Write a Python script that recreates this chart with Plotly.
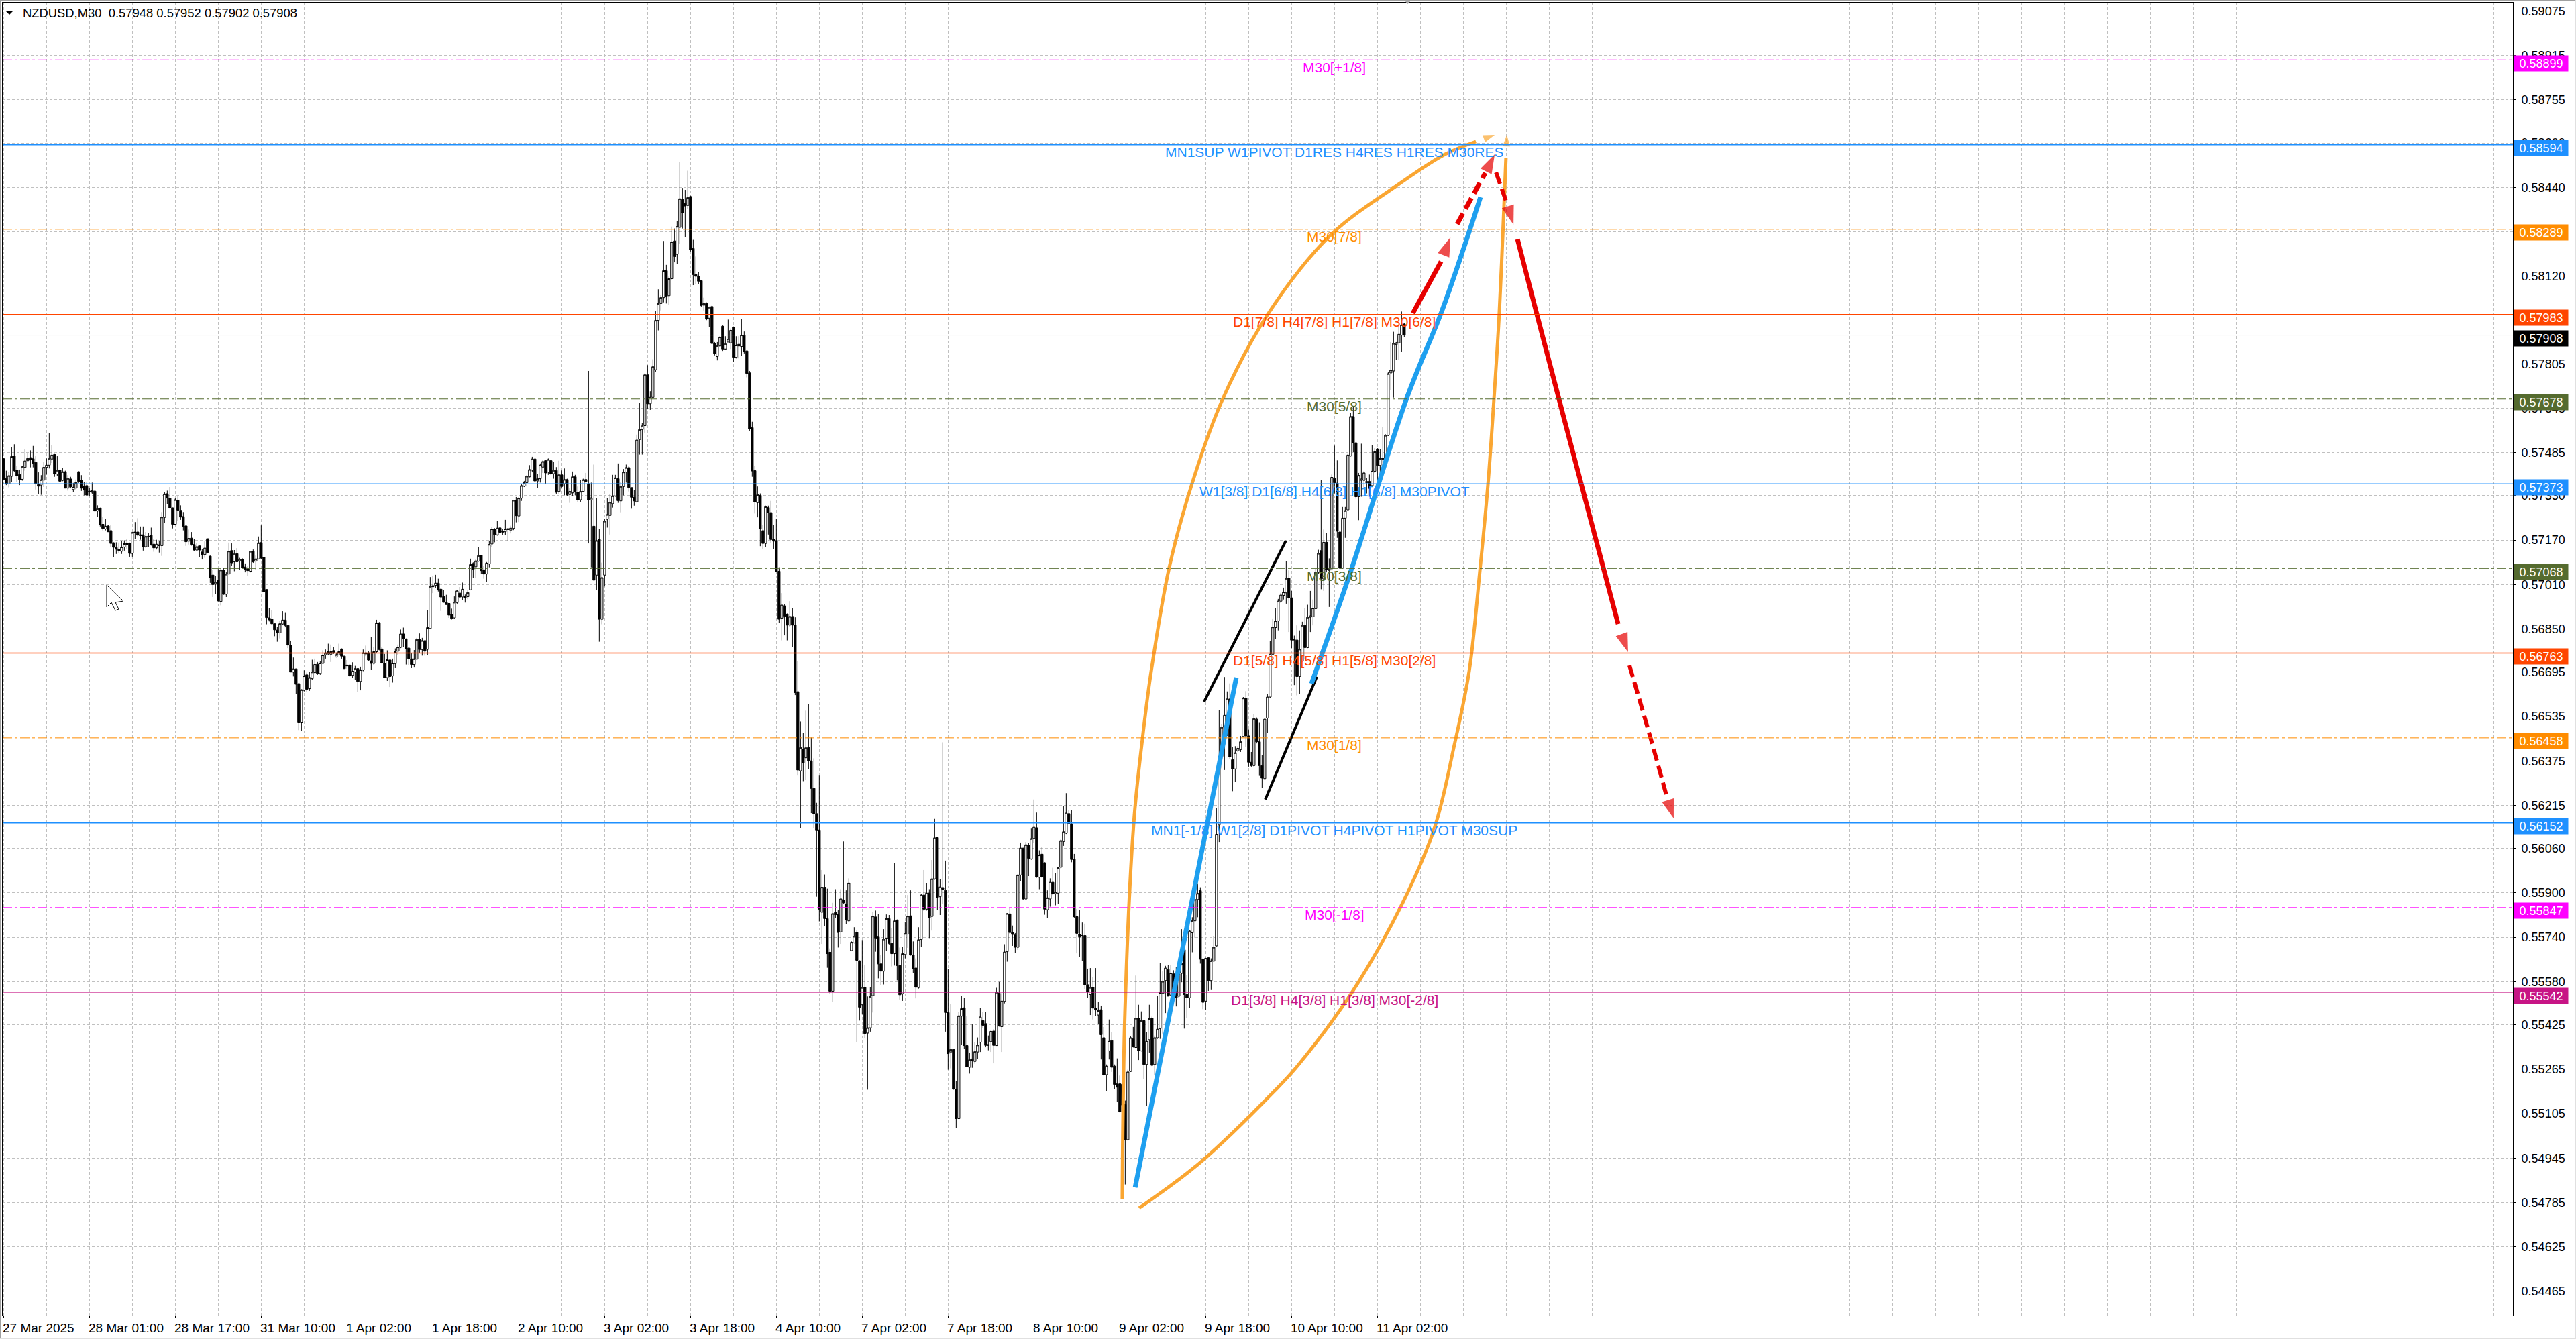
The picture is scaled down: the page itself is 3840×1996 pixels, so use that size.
import plotly.graph_objects as go

# ---- candle data, in points (1/100000) ----
opens = [
57463,57392,57372,57400,57472,57422,57406,57389,57432,57456,57467,57463,57450,57370,57368,57386,57432,57440,57462,57478,
57408,57422,57385,57416,57357,57390,57352,57357,57416,57384,57364,57366,57346,57342,57346,57275,57284,57227,57210,57221,
57204,57160,57143,57136,57130,57145,57158,57158,57122,57199,57199,57189,57189,57146,57184,57187,57155,57142,57153,57150,
57252,57337,57321,57286,57227,57313,57277,57255,57221,57166,57177,57154,57134,57149,57127,57118,57175,57112,57044,57012,
57026,56949,57062,56975,57048,57132,57092,57121,57094,57100,57073,57067,57058,57129,57094,57102,57161,57108,56992,56890,
56885,56869,56846,56836,56868,56882,56863,56792,56695,56706,56653,56512,56629,56685,56635,56671,56693,56723,56690,56726,
56757,56760,56759,56772,56749,56756,56778,56752,56720,56720,56683,56695,56707,56661,56702,56764,56764,56735,56726,56768,
56872,56778,56727,56675,56738,56681,56725,56770,56784,56832,56814,56781,56742,56722,56741,56813,56776,56808,56777,56852,
57006,57007,57015,56993,56966,56946,56942,56902,56890,56945,56979,56965,56966,56966,56991,57086,57074,57094,57115,57063,
57048,57084,57156,57210,57189,57214,57201,57200,57211,57206,57212,57313,57257,57321,57364,57377,57398,57422,57462,57383,
57391,57433,57456,57415,57456,57409,57421,57345,57405,57373,57388,57334,57340,57398,57342,57315,57345,57388,57373,57315,
57220,57044,57173,56885,57044,57245,57259,57301,57329,57391,57311,57363,57415,57431,57359,57324,57308,57532,57568,57582,
57765,57661,57684,57783,57961,58022,58043,58140,58050,58111,58247,58199,58296,58396,58382,58375,58407,58220,58126,58120,
58104,58016,58022,57969,58011,57878,57831,57869,57940,57858,57883,57880,57936,57828,57875,57867,57908,57851,57772,57575,
57420,57305,57331,57204,57158,57287,57269,57173,57168,57058,56889,56933,56902,56864,56895,56864,56624,56339,56417,56386,
56423,56375,56276,56185,56126,55830,55920,55807,55686,55546,55829,55821,55759,55874,55860,55799,55692,55720,55757,55655,
55497,55559,55395,55414,55530,55813,55741,55644,55618,55737,55807,55718,55681,55802,55638,55537,55678,55751,55817,55676,
55629,55559,55732,55892,55841,55899,55815,55950,56099,55886,55919,55909,55469,55327,55336,55193,55087,55456,55486,55350,
55272,55297,55293,55327,55362,55440,55429,55354,55364,55402,55350,55539,55418,55509,55688,55824,55757,55748,55704,55964,
56061,55878,56071,56022,56096,56134,55956,56039,56008,55839,55878,55938,55897,55899,55992,56085,56115,56185,56148,56021,
55814,55750,55744,55746,55569,55534,55560,55485,55460,55479,55378,55245,55331,55368,55276,55212,55212,55210,55138,55011,
55257,55374,55343,55448,55331,55440,55282,55371,55448,55282,55378,55411,55538,55584,55624,55532,55608,55584,55528,55610,
55695,55534,55522,55756,55799,55876,55908,55661,55510,55666,55584,55654,55709,56144,56391,56496,56539,56598,56379,56346,
56411,56416,56463,56601,56465,56370,56358,56525,56444,56358,56311,56529,56605,56759,56855,56879,56950,56971,56980,57033,
56962,56810,56810,56679,56734,56863,56783,56892,56894,56923,57054,57132,57030,57162,57061,57067,57392,57375,57199,57069,
57249,57279,57473,57615,57520,57326,57385,57385,57377,57381,57366,57418,57498,57439,57461,57464,57547,57772,57779,57874,
57880,57908,57948]
highs = [
57466,57420,57416,57505,57515,57436,57424,57436,57498,57484,57493,57509,57472,57414,57404,57452,57464,57555,57511,57480,
57472,57424,57431,57420,57404,57398,57376,57388,57418,57404,57380,57380,57356,57377,57350,57295,57287,57253,57247,57224,
57223,57162,57162,57161,57168,57169,57173,57161,57200,57235,57249,57219,57219,57199,57195,57215,57175,57171,57168,57271,
57344,57348,57361,57287,57321,57329,57295,57271,57223,57208,57199,57175,57160,57150,57138,57165,57175,57114,57062,57042,
57066,57070,57070,57054,57161,57158,57134,57141,57106,57104,57086,57076,57130,57136,57114,57183,57223,57109,56993,56925,
56917,56870,56857,56879,56914,56908,56864,56808,56747,56707,56655,56633,56701,56693,56695,56739,56743,56731,56733,56773,
56776,56797,56794,56786,56765,56797,56780,56753,56738,56722,56730,56717,56709,56714,56776,56790,56770,56820,56785,56883,
56875,56784,56760,56773,56739,56743,56780,56794,56848,56855,56816,56785,56764,56774,56818,56834,56818,56808,56918,57037,
57041,57045,57031,56997,56991,56973,56944,56923,56967,56989,57001,57017,56974,56991,57103,57090,57100,57144,57116,57078,
57091,57168,57218,57213,57239,57216,57210,57243,57213,57222,57315,57325,57325,57371,57383,57404,57440,57470,57462,57408,
57446,57458,57460,57464,57459,57451,57433,57456,57421,57428,57391,57356,57417,57405,57363,57387,57391,57412,57779,57377,
57442,57322,57211,57089,57245,57322,57336,57405,57405,57446,57380,57426,57442,57437,57359,57349,57550,57664,57592,57770,
57800,57706,57821,57994,58073,58052,58247,58161,58119,58299,58292,58320,58531,58438,58431,58500,58410,58251,58191,58136,
58105,58043,58026,58011,58014,57883,57883,57904,57943,57904,57964,57932,57939,57904,57904,57966,57921,57853,57779,57596,
57437,57363,57338,57225,57294,57294,57311,57225,57245,57072,56979,56940,56906,56950,56926,56892,56735,56517,56475,56556,
56580,56459,56384,56224,56322,55982,55966,55915,55700,55864,55913,55839,55913,56085,55909,55952,55725,55776,55764,55657,
55730,55639,55527,55560,55832,55836,55824,55676,55769,55822,55820,55773,56008,55804,55703,55706,55796,55892,55909,55725,
55664,55776,55895,55982,55934,55913,56018,56166,56101,55950,56442,56016,55625,55499,55337,55223,55471,55528,55522,55455,
55325,55426,55363,55379,55486,55471,55471,55386,55404,55409,55558,55579,55539,55715,55827,55846,55782,55755,55966,56081,
56062,56083,56080,56131,56236,56189,56053,56064,56010,55909,55952,55990,55971,55992,56092,56213,56259,56199,56199,56040,
55842,55839,55793,55789,55627,55629,55596,55629,55507,55494,55417,55282,55444,55399,55282,55304,55242,55245,55152,55263,
55383,55417,55602,55497,55473,55442,55399,55497,55454,55386,55528,55648,55617,55637,55639,55639,55621,55633,55664,55769,
55698,55605,55766,55812,55916,55932,55920,55664,55666,55670,55664,55744,56206,56557,56508,56677,56625,56654,56426,56428,
56428,56465,56605,56626,56488,56407,56543,56531,56512,56395,56527,56617,56808,56888,56925,56958,56980,56999,57095,57061,
56987,56826,56863,56845,56876,56925,56937,56987,56956,57067,57135,57387,57208,57196,57104,57406,57510,57457,57200,57289,
57289,57480,57627,57652,57523,57412,57517,57418,57393,57406,57513,57501,57501,57498,57578,57551,57775,57883,57920,57883,
57942,57993,57952]
lows = [
57385,57368,57360,57380,57416,57380,57368,57384,57420,57454,57432,57432,57352,57336,57333,57361,57406,57428,57448,57398,
57402,57379,57382,57356,57348,57356,57342,57352,57376,57347,57331,57330,57327,57336,57274,57253,57219,57205,57205,57199,
57146,57108,57120,57122,57120,57132,57138,57110,57110,57175,57184,57171,57132,57142,57146,57150,57128,57136,57125,57113,
57232,57299,57283,57212,57224,57239,57243,57205,57149,57154,57150,57130,57130,57108,57100,57106,57125,57016,56965,56977,
56949,56935,56973,56965,57046,57078,57058,57090,57062,57070,57054,57042,57054,57088,57063,57100,57102,56983,56867,56877,
56865,56824,56804,56816,56864,56856,56781,56695,56679,56615,56486,56482,56625,56623,56627,56667,56691,56685,56685,56725,
56743,56756,56731,56760,56747,56754,56743,56707,56707,56679,56673,56667,56623,56629,56698,56752,56735,56702,56719,56764,
56773,56725,56673,56663,56641,56657,56709,56756,56781,56784,56722,56719,56709,56711,56738,56764,56754,56754,56757,56850,
56979,56997,56985,56915,56945,56937,56890,56884,56888,56941,56961,56953,56945,56957,56989,57033,57035,57092,57048,57031,
57019,57072,57146,57162,57186,57194,57189,57189,57166,57194,57206,57234,57235,57311,57361,57363,57396,57414,57379,57357,
57377,57412,57373,57405,57405,57391,57335,57335,57359,57331,57329,57304,57329,57331,57308,57308,57342,57377,57158,57072,
57024,56989,56804,56867,57003,57215,57190,57287,57326,57304,57270,57331,57377,57345,57283,57294,57305,57478,57478,57557,
57641,57639,57678,57776,57925,57997,58026,58022,58018,58108,58170,58163,58237,58292,58262,58362,58209,58088,58091,58091,
58011,57997,57962,57936,57876,57835,57817,57865,57851,57856,57883,57858,57811,57824,57824,57832,57842,57756,57564,57398,
57266,57252,57148,57139,57146,57190,57159,57137,57055,56871,56809,56827,56809,56857,56784,56612,56322,56134,56302,56308,
56345,56187,56134,55886,55797,55716,55781,55630,55537,55507,55810,55703,55716,55860,55788,55795,55690,55718,55363,55440,
55462,55377,55191,55400,55469,55688,55592,55567,55570,55691,55714,55635,55638,55585,55516,55511,55664,55702,55674,55611,
55520,55555,55706,55835,55836,55737,55764,55947,55839,55820,55861,55400,55263,55268,55191,55053,55086,55353,55339,55274,
55249,55270,55285,55302,55327,55414,55344,55333,55327,55286,55349,55418,55327,55502,55652,55753,55709,55683,55695,55943,
55876,55876,55960,56019,56080,55954,55913,55954,55821,55810,55850,55892,55855,55860,55988,56069,56112,56146,56010,55809,
55682,55670,55654,55553,55522,55460,55444,55457,55427,55300,55242,55187,55300,55255,55193,55146,55109,55109,54850,55008,
55255,55343,55343,55298,55329,55230,55134,55325,55276,55245,55374,55374,55393,55467,55528,55528,55522,55491,55522,55578,
55411,55448,55485,55686,55738,55812,55645,55481,55477,55547,55550,55651,55707,56083,56348,56342,56465,56383,56266,56300,
56407,56407,56460,56426,56354,56354,56354,56438,56321,56278,56309,56475,56602,56756,56814,56845,56944,56956,56941,56839,
56781,56648,56611,56617,56732,56740,56781,56839,56863,56921,57048,56993,56987,57054,56929,57061,57338,57178,57067,57067,
57178,57276,57471,57486,57319,57242,57326,57350,57338,57326,57362,57412,57375,57399,57424,57461,57545,57710,57683,57818,
57818,57849,57902]
closes = [
57388,57372,57402,57471,57420,57402,57388,57434,57455,57464,57459,57447,57372,57364,57387,57432,57440,57463,57476,57408,
57421,57382,57416,57357,57392,57362,57360,57377,57381,57357,57350,57332,57343,57348,57275,57283,57227,57212,57220,57200,
57158,57144,57137,57133,57145,57157,57154,57122,57197,57196,57188,57186,57146,57183,57181,57154,57142,57155,57150,57253,
57336,57321,57285,57227,57315,57278,57253,57220,57164,57176,57154,57134,57146,57134,57118,57141,57125,57034,57010,57018,
56951,57062,56975,57047,57130,57088,57120,57092,57100,57071,57065,57060,57129,57092,57102,57160,57105,56984,56891,56883,
56869,56847,56838,56869,56882,56863,56792,56695,56706,56651,56512,56631,56681,56633,56675,56695,56722,56690,56727,56756,
56764,56768,56768,56766,56757,56768,56752,56707,56717,56681,56698,56707,56661,56703,56764,56760,56738,56726,56768,56872,
56776,56727,56675,56739,56679,56727,56768,56785,56832,56816,56778,56743,56722,56742,56812,56776,56808,56770,56855,57003,
57002,57015,56991,56965,56946,56938,56900,56888,56946,56987,56965,56993,56962,56981,57082,57065,57095,57114,57060,57048,
57087,57154,57210,57190,57213,57198,57199,57210,57208,57213,57313,57258,57321,57366,57377,57400,57424,57462,57383,57391,
57440,57453,57412,57460,57409,57421,57342,57405,57363,57388,57333,57345,57398,57345,57315,57345,57387,57381,57315,57322,
57026,57168,56885,57035,57238,57262,57306,57329,57394,57312,57363,57415,57431,57359,57324,57311,57530,57568,57581,57765,
57661,57684,57794,57961,58022,58043,58140,58048,58111,58244,58191,58299,58399,58348,58373,58403,58216,58126,58120,58102,
58015,58022,57966,58008,57878,57842,57869,57901,57858,57876,57893,57925,57828,57872,57869,57908,57849,57770,57571,57419,
57308,57333,57211,57158,57290,57269,57172,57166,57058,56885,56936,56896,56864,56895,56864,56621,56342,56423,56368,56422,
56375,56276,56185,56126,55841,55920,55807,55681,55546,55825,55821,55757,55878,55864,55802,55935,55722,55743,55657,55488,
55559,55393,55414,55527,55816,55737,55644,55618,55733,55807,55718,55681,55799,55638,55533,55681,55753,55816,55676,55627,
55560,55731,55892,55841,55899,55810,55950,56098,55883,55921,55913,55469,55321,55336,55193,55087,55457,55483,55350,55274,
55299,55302,55328,55352,55453,55423,55351,55351,55401,55351,55542,55421,55510,55687,55825,55757,55750,55704,55964,56061,
55878,56073,56024,56095,56136,55957,56036,55957,55841,55882,55938,55897,55903,55990,56088,56120,56187,56149,56020,55814,
55754,55741,55746,55569,55543,55559,55485,55478,55476,55389,55245,55276,55365,55272,55210,55200,55112,55136,55011,55255,
55378,55346,55448,55331,55440,55282,55365,55447,55279,55378,55409,55541,55581,55629,55528,55611,55541,55522,55608,55645,
55534,55522,55762,55799,55876,55898,55661,55506,55664,55584,55655,55704,56111,56391,56496,56539,56598,56389,56346,56404,
56420,56444,56601,56465,56370,56358,56527,56444,56358,56313,56525,56605,56759,56857,56879,56950,56972,56983,57032,56962,
56810,56812,56679,56777,56863,56783,56892,56897,56925,57054,57122,57032,57162,57064,57067,57396,57377,57202,57069,57249,
57276,57476,57615,57520,57326,57403,57390,57412,57381,57356,57418,57488,57439,57464,57465,57547,57769,57782,57878,57880,
57911,57945,57908]

assert len(opens) == len(highs) == len(lows) == len(closes) == 523, (len(opens), len(highs), len(lows), len(closes))

date_labels = ["27 Mar 2025", "28 Mar 01:00", "28 Mar 17:00", "31 Mar 10:00", "1 Apr 02:00", "1 Apr 18:00",
               "2 Apr 10:00", "3 Apr 02:00", "3 Apr 18:00", "4 Apr 10:00", "7 Apr 02:00", "7 Apr 18:00",
               "8 Apr 10:00", "9 Apr 02:00", "9 Apr 18:00", "10 Apr 10:00", "11 Apr 02:00"]
price_ticks = ["0.59075", "0.58915", "0.58755", "0.58600", "0.58440", "0.58280", "0.58120", "0.57960", "0.57805",
               "0.57645", "0.57485", "0.57330", "0.57170", "0.57010", "0.56850", "0.56695", "0.56535", "0.56375",
               "0.56215", "0.56060", "0.55900", "0.55740", "0.55580", "0.55425", "0.55265", "0.55105", "0.54945",
               "0.54785", "0.54625", "0.54465"]

# Murrey-style levels: price in points, label, colour, line width, dash
level_prices = [58899, 58594, 58289, 57983, 57908, 57678, 57373, 57068, 56763, 56458, 56152, 55847, 55542]
level_labels = ["M30[+1/8]", "MN1SUP W1PIVOT D1RES H4RES H1RES M30RES", "M30[7/8]",
                "D1[7/8] H4[7/8] H1[7/8] M30[6/8]", "", "M30[5/8]",
                "W1[3/8] D1[6/8] H4[6/8] H1[6/8] M30PIVOT", "M30[3/8]",
                "D1[5/8] H4[5/8] H1[5/8] M30[2/8]", "M30[1/8]",
                "MN1[-1/8] W1[2/8] D1PIVOT H4PIVOT H1PIVOT M30SUP", "M30[-1/8]",
                "D1[3/8] H4[3/8] H1[3/8] M30[-2/8]"]
level_colors = ["#ff00ff", "#1e90ff", "#ff8c00", "#ff4500", "#000000", "#556b2f", "#1e90ff", "#556b2f",
                "#ff4500", "#ff8c00", "#1e90ff", "#ff00ff", "#c71585"]
level_widths = [1, 2, 1, 1, 1, 1, 1, 1, 1.5, 1, 2, 1, 1]
level_dash = ["dd", "s", "dd", "s", "s", "dd", "s", "dd", "s", "dd", "s", "dd", "s"]

# hand-drawn analysis lines: bar position, price in points
orange_up_bars = [416.9, 417.9, 421.2, 424.4, 427.7, 434.4, 442.9, 454.2, 471.4, 494.4, 518.4, 537.2, 548.7, 555.7]
orange_up_prices = [54796, 55467, 56153, 56453, 56699, 57071, 57373, 57675, 57987, 58267, 58441, 58559, 58605, 58629]
orange_low_bars = [423.2, 446.2, 473.7, 482.4, 502.4, 520.9, 533.2, 540.7, 546.2, 550.2, 553.2, 555.4, 557.4, 559.4, 559.9, 560.2]
orange_low_prices = [54765, 54931, 55187, 55279, 55540, 55854, 56132, 56434, 56699, 57062, 57373, 57675, 57987, 58429, 58547, 58629]
blue_a_bars = [421.7, 448.7, 459.4]
blue_a_prices = [54839, 56153, 56675]
blue_b_bars = [487.4, 502.2, 522.7, 535.7, 543.9, 550.4]
blue_b_prices = [56653, 57062, 57675, 57987, 58214, 58405]
black_a_bars = [447.4, 477.9]
black_a_prices = [56588, 57168]
black_b_bars = [470.2, 489.4]
black_b_prices = [56236, 56678]
red_a_bars = [525.2, 535.7, 539.2]
red_a_prices = [57987, 58173, 58260]
red_b_bars = [541.7, 552.2, 555.7]
red_b_prices = [58308, 58492, 58559]
red_c_bars = [556.2, 560.4, 562.7]
red_c_prices = [58494, 58378, 58306]
red_d_bars = [564.2, 571.9, 586.2, 601.7, 605.4]
red_d_prices = [58253, 57965, 57436, 56868, 56767]
red_e_bars = [605.9, 613.9, 620.0, 622.4]
red_e_prices = [56719, 56453, 56240, 56168]

header_text = "NZDUSD,M30  0.57948 0.57952 0.57902 0.57908"

# ---- layout constants ----
W, H = 3840, 1996
L, R, T, B = 4, 3746, 4, 1961
FONT = "Liberation Sans"
ORANGE, BLUE, RED = "#faa632", "#1e9fef", "#e60000"
def px_x(x): return (x - L) / (R - L)
def px_y(y): return 1 - (y - T) / (B - T)
def p(v): return v / 1e5

bars = list(range(len(opens)))
fig = go.Figure()
fig.add_trace(go.Candlestick(
    x=bars, open=[p(v) for v in opens], high=[p(v) for v in highs], low=[p(v) for v in lows], close=[p(v) for v in closes],
    increasing=dict(line=dict(color="black", width=1), fillcolor="white"),
    decreasing=dict(line=dict(color="black", width=1), fillcolor="black"),
    whiskerwidth=0, hoverinfo="skip", showlegend=False))

def line(xs, ys, color, width, dash="solid", head=0, curved=False):
    n = len(xs) - 1 if head else len(xs)
    ln = dict(color=color, width=width, dash=dash)
    if curved:
        ln.update(shape="spline", smoothing=1.0)
    fig.add_trace(go.Scatter(x=xs[:n], y=[p(v) for v in ys[:n]], mode="lines", line=ln,
                             hoverinfo="skip", showlegend=False))
    if head:
        fig.add_trace(go.Scatter(x=xs[-2:], y=[p(v) for v in ys[-2:]], mode="markers",
                                 marker=dict(symbol="arrow", size=[0, head], color=color, angleref="previous",
                                             line=dict(width=0)),
                                 hoverinfo="skip", showlegend=False))

line(orange_up_bars, orange_up_prices, ORANGE, 5, head=18, curved=True)
line(orange_low_bars, orange_low_prices, ORANGE, 5, head=18, curved=True)
line(black_a_bars, black_a_prices, "black", 4)
line(black_b_bars, black_b_prices, "black", 4)
line(blue_a_bars, blue_a_prices, BLUE, 7)
line(blue_b_bars, blue_b_prices, BLUE, 7, curved=True)
line(red_a_bars, red_a_prices, RED, 7, head=30)
line(red_b_bars, red_b_prices, RED, 7, dash="18px,8px", head=30)
line(red_c_bars, red_c_prices, RED, 6, dash="18px,8px", head=30)
line(red_d_bars, red_d_prices, RED, 7, head=30, curved=True)
line(red_e_bars, red_e_prices, RED, 6, dash="18px,8px", head=30, curved=True)

shapes, annos = [], []
for price, lab, col, w, d in zip(level_prices, level_labels, level_colors, level_widths, level_dash):
    lc = "#c0c0c0" if col == "#000000" else col
    shapes.append(dict(type="line", xref="paper", yref="y", x0=0, x1=1, y0=p(price), y1=p(price), layer="above",
                       line=dict(color=lc, width=w, dash="solid" if d == "s" else "14px,4px,4px,4px")))
    if lab:
        annos.append(dict(x=496, y=p(price), xref="x", yref="y", text=lab, showarrow=False, yshift=-11,
                          xanchor="center", yanchor="middle", font=dict(family=FONT, size=21, color=col)))
    annos.append(dict(x=px_x(3788), y=p(price), xref="paper", yref="y", text=f"{p(price):.5f}", showarrow=False, yshift=-5,
                      xanchor="center", yanchor="middle", width=80, height=23, borderpad=0, bgcolor=col, align="center",
                      font=dict(family=FONT, size=18, color="white")))

tick_bars = [32 * k for k in range(len(date_labels))]
for b, t in zip(tick_bars, date_labels):
    annos.append(dict(x=b, y=px_y(1979), xref="x", yref="paper", text=t, showarrow=False, xanchor="left", yanchor="middle",
                      xshift=-3, font=dict(family=FONT, size=19, color="black")))
annos.append(dict(x=px_x(32), y=px_y(19), xref="paper", yref="paper", text=header_text, showarrow=False, xanchor="left",
                  yanchor="middle", font=dict(family=FONT, size=18.4, color="black")))

def poly(pts, fill, lc=None, lw=0):
    path = "M " + " L ".join(f"{px_x(x):.6f},{px_y(y):.6f}" for x, y in pts) + " Z"
    return dict(type="path", xref="paper", yref="paper", path=path, fillcolor=fill,
                line=dict(color=lc or fill, width=lw), layer="above")

shapes.append(poly([(8, 16), (20, 16), (14, 22)], "black"))                      # header menu triangle
shapes.append(poly([(2093, 0), (2104, 0), (2098.5, 6)], "#a8a8a8"))              # shift marker
shapes.append(poly([(159, 872), (184, 896), (172, 898), (177, 908), (172, 910), (166, 898), (159, 905)],
                   "white", "black", 1))                                         # mouse pointer
shapes.append(poly([(0, 0), (W, 0), (W, 2), (0, 2)], "#a0a0a0"))                 # window frame
shapes.append(poly([(0, 0), (2, 0), (2, H), (0, H)], "#a0a0a0"))
shapes.append(poly([(W - 2, 0), (W, 0), (W, H), (W - 2, H)], "#e0e0e0"))
shapes.append(poly([(0, H - 2), (W, H - 2), (W, H), (0, H)], "#e0e0e0"))

grid = dict(showgrid=True, gridcolor="#c0c0c0", gridwidth=1, griddash="4px,3px")
minor_bars = [16 * k for k in range(59) if not (k % 2 == 0 and k // 2 < len(date_labels))]
fig.update_layout(
    width=W, height=H, autosize=False, showlegend=False, hovermode=False, dragmode=False,
    paper_bgcolor="white", plot_bgcolor="white", boxgap=0.2, boxgroupgap=0,
    margin=dict(l=L, r=W - R, t=T, b=H - B, pad=0, autoexpand=False),
    font=dict(family=FONT, size=18, color="black"),
    shapes=shapes, annotations=annos,
    xaxis=dict(range=[(L - 5.33) / 4, (R - 5.33) / 4], rangeslider=dict(visible=False), tickmode="array", tickvals=tick_bars,
               ticktext=[""] * len(tick_bars), showticklabels=False, ticks="outside", ticklen=3, tickcolor="black",
               showline=True, mirror=True, linecolor="black", linewidth=1, zeroline=False,
               minor=dict(tickmode="array", tickvals=minor_bars, showgrid=True, gridcolor="#c0c0c0", griddash="4px,3px",
                          gridwidth=1, ticks=""), **grid),
    yaxis=dict(range=[0.54378, 0.59105], side="right", tickmode="array", tickvals=[float(t) for t in price_ticks],
               ticktext=price_ticks, ticks="outside", ticklen=3, tickcolor="black", ticklabelstandoff=5,
               showline=True, mirror=True, linecolor="black", linewidth=1, zeroline=False,
               tickfont=dict(family=FONT, size=18, color="black"), **grid),
)
fig.write_html("out.html", config=dict(displayModeBar=False, responsive=False),
               post_script="document.body.style.margin='0';document.body.style.overflow='hidden';")
